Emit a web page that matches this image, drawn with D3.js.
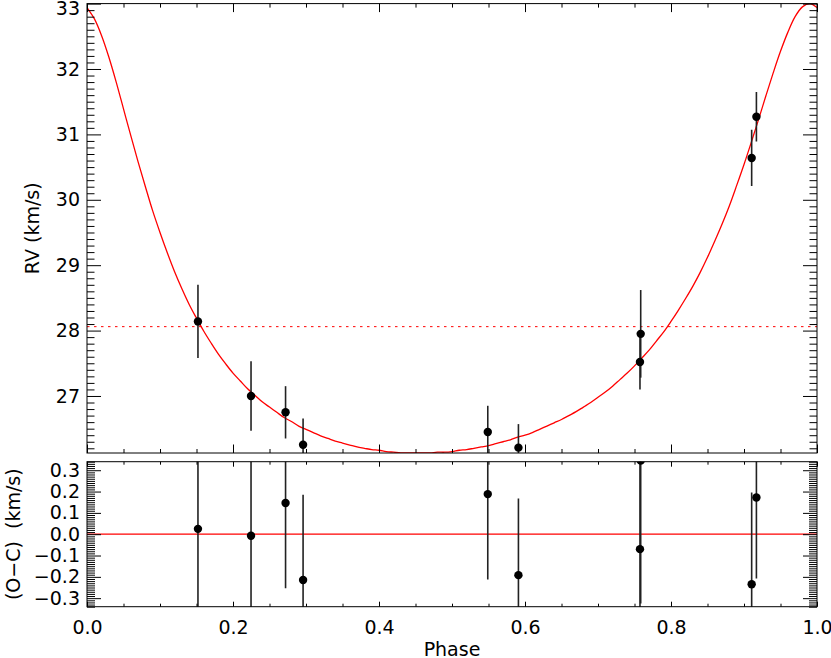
<!DOCTYPE html>
<html><head><meta charset="utf-8">
<script src="https://cdn.jsdelivr.net/npm/d3@7"></script>
<style>body{margin:0;background:#fff}text{font-family:"DejaVu Sans",sans-serif;fill:#000}</style>
</head>
<body>
<svg id="chart" width="831" height="658"></svg>
<script>
// ---- data ----
const phase    = [0.152, 0.2247, 0.272, 0.296, 0.549, 0.591, 0.7585, 0.7575, 0.9105, 0.917];
const rvObs    = [28.14, 27.00, 26.75, 26.255, 26.45, 26.21, 27.95, 27.52, 30.64, 31.27];
const rvErr    = [0.56, 0.53, 0.40, 0.40, 0.40, 0.36, 0.67, 0.42, 0.43, 0.38];
const residual = [0.025, -0.007, 0.146, -0.215, 0.188, -0.192, 0.345, -0.070, -0.235, 0.172];
const systemicVelocity = 28.06;
// model curve, sampled every 0.01 in phase
const modelPhase = d3.range(0, 101).map(i => i / 100);
const modelRV = [32.94,32.77,32.51,32.18,31.80,31.39,30.98,30.58,30.20,29.83,
 29.50,29.19,28.90,28.64,28.40,28.19,27.99,27.81,27.64,27.49,
 27.35,27.23,27.11,27.01,26.91,26.83,26.75,26.67,26.61,26.54,
 26.49,26.44,26.39,26.35,26.31,26.28,26.25,26.22,26.20,26.18,
 26.17,26.15,26.14,26.13,26.13,26.13,26.13,26.13,26.14,26.14,
 26.15,26.17,26.18,26.20,26.22,26.24,26.27,26.30,26.33,26.37,
 26.40,26.44,26.49,26.54,26.59,26.64,26.70,26.76,26.83,26.90,
 26.98,27.06,27.15,27.25,27.35,27.46,27.58,27.70,27.84,27.98,
 28.14,28.31,28.49,28.68,28.89,29.12,29.37,29.63,29.91,30.22,
 30.54,30.88,31.23,31.59,31.94,32.27,32.56,32.80,32.95,33.00,32.94];
const xTicks = [0.0, 0.2, 0.4, 0.6, 0.8, 1.0];
const rvTicks = [27, 28, 29, 30, 31, 32, 33];
const resTicks = [-0.3, -0.2, -0.1, 0.0, 0.1, 0.2, 0.3];

// ---- layout ----
const svg = d3.select("#chart");
const L = 87, R = 817;
const top1 = 3.6, bot1 = 453, top2 = 461.7, bot2 = 606.7;
const x = d3.scaleLinear([0, 1], [L, R]);
const yTop = d3.scaleLinear([26.128, 33.0], [bot1, top1]);
const yBot = d3.scaleLinear([-0.34, 0.34], [bot2, top2]);
const xMinor = d3.range(0, 21).map(i => i * 0.05).filter(v => Math.abs(v / 0.2 - Math.round(v / 0.2)) > 1e-6);
const rvMinor = d3.range(262, 331).map(i => i / 10).filter(v => Math.abs(v - Math.round(v)) > 1e-6);
const resMinor = d3.range(-34, 35).map(i => i / 100).filter(v => Math.abs(v * 10 - Math.round(v * 10)) > 1e-6);

const defs = svg.append("defs");
defs.append("clipPath").attr("id", "c1").append("rect").attr("x", L).attr("y", top1).attr("width", R - L).attr("height", bot1 - top1);
defs.append("clipPath").attr("id", "c2").append("rect").attr("x", L).attr("y", top2).attr("width", R - L).attr("height", bot2 - top2);

function styleAxis(g) {
  g.select(".domain").remove();
  g.selectAll("line").attr("stroke", "#000").attr("stroke-width", 1);
  g.selectAll("text").attr("font-size", 19).attr("font-family", "DejaVu Sans").attr("fill", "#000");
}
function addAxis(axis, tx, ty) {
  return svg.append("g").attr("transform", `translate(${tx},${ty})`).call(axis).call(styleAxis);
}

// ---- top panel ----
const p1 = svg.append("g").attr("clip-path", "url(#c1)");
p1.append("line").attr("x1", L).attr("x2", R).attr("y1", yTop(systemicVelocity)).attr("y2", yTop(systemicVelocity))
  .attr("stroke", "#ff0000").attr("stroke-width", 1).attr("stroke-dasharray", "2.5,4.5");
p1.append("path").datum(modelPhase.map((p, i) => [p, modelRV[i]]))
  .attr("fill", "none").attr("stroke", "#ff0000").attr("stroke-width", 1.3)
  .attr("d", d3.line().x(d => x(d[0])).y(d => yTop(d[1])).curve(d3.curveCatmullRom));
p1.selectAll(".eb").data(phase).join("line")
  .attr("x1", d => x(d)).attr("x2", d => x(d))
  .attr("y1", (d, i) => yTop(rvObs[i] - rvErr[i])).attr("y2", (d, i) => yTop(rvObs[i] + rvErr[i]))
  .attr("stroke", "#222").attr("stroke-width", 1.6);
p1.selectAll(".pt").data(phase).join("circle")
  .attr("cx", d => x(d)).attr("cy", (d, i) => yTop(rvObs[i])).attr("r", 4.2).attr("fill", "#000");

// ---- bottom panel ----
const p2 = svg.append("g").attr("clip-path", "url(#c2)");
p2.append("line").attr("x1", L).attr("x2", R).attr("y1", yBot(0)).attr("y2", yBot(0))
  .attr("stroke", "#ff0000").attr("stroke-width", 1.3);
p2.selectAll(".eb").data(phase).join("line")
  .attr("x1", d => x(d)).attr("x2", d => x(d))
  .attr("y1", (d, i) => yBot(residual[i] - rvErr[i])).attr("y2", (d, i) => yBot(residual[i] + rvErr[i]))
  .attr("stroke", "#222").attr("stroke-width", 1.6);
p2.selectAll(".pt").data(phase).join("circle")
  .attr("cx", d => x(d)).attr("cy", (d, i) => yBot(residual[i])).attr("r", 4.2).attr("fill", "#000");

// ---- axes: top panel ----
const yl1 = addAxis(d3.axisLeft(yTop).tickValues(rvTicks).tickFormat(d3.format("d")).tickSizeInner(-14).tickSizeOuter(0).tickPadding(7), L, 0);
yl1.selectAll(".tick").filter(d => d === 33).select("text").attr("dy", "0.55em");
addAxis(d3.axisLeft(yTop).tickValues(rvMinor).tickFormat("").tickSizeInner(-7.5).tickSizeOuter(0), L, 0);
addAxis(d3.axisRight(yTop).tickValues(rvTicks).tickFormat("").tickSizeInner(-14).tickSizeOuter(0), R, 0);
addAxis(d3.axisRight(yTop).tickValues(rvMinor).tickFormat("").tickSizeInner(-7.5).tickSizeOuter(0), R, 0);
addAxis(d3.axisBottom(x).tickValues(xTicks).tickFormat("").tickSizeInner(-8.5).tickSizeOuter(0), 0, bot1);
addAxis(d3.axisBottom(x).tickValues(xMinor).tickFormat("").tickSizeInner(-4).tickSizeOuter(0), 0, bot1);
addAxis(d3.axisTop(x).tickValues(xTicks).tickFormat("").tickSizeInner(-8.5).tickSizeOuter(0), 0, top1);
addAxis(d3.axisTop(x).tickValues(xMinor).tickFormat("").tickSizeInner(-4).tickSizeOuter(0), 0, top1);

// ---- axes: bottom panel ----
addAxis(d3.axisLeft(yBot).tickValues(resTicks).tickFormat(d3.format(".1f")).tickSizeInner(-14).tickSizeOuter(0).tickPadding(7), L, 0);
addAxis(d3.axisLeft(yBot).tickValues(resMinor).tickFormat("").tickSizeInner(-8).tickSizeOuter(0), L, 0);
addAxis(d3.axisRight(yBot).tickValues(resTicks).tickFormat("").tickSizeInner(-14).tickSizeOuter(0), R, 0);
addAxis(d3.axisRight(yBot).tickValues(resMinor).tickFormat("").tickSizeInner(-8).tickSizeOuter(0), R, 0);
addAxis(d3.axisBottom(x).tickValues(xTicks).tickFormat(d3.format(".1f")).tickSizeInner(-5).tickSizeOuter(0).tickPadding(14), 0, bot2);
addAxis(d3.axisBottom(x).tickValues(xMinor).tickFormat("").tickSizeInner(-3).tickSizeOuter(0), 0, bot2);
addAxis(d3.axisTop(x).tickValues(xTicks).tickFormat("").tickSizeInner(-5).tickSizeOuter(0), 0, top2);
addAxis(d3.axisTop(x).tickValues(xMinor).tickFormat("").tickSizeInner(-3).tickSizeOuter(0), 0, top2);

// ---- frames ----
svg.append("rect").attr("x", L).attr("y", top1).attr("width", R - L).attr("height", bot1 - top1)
  .attr("fill", "none").attr("stroke", "#000").attr("stroke-width", 1);
svg.append("rect").attr("x", L).attr("y", top2).attr("width", R - L).attr("height", bot2 - top2)
  .attr("fill", "none").attr("stroke", "#000").attr("stroke-width", 1);

// ---- titles ----
svg.append("text").attr("transform", `translate(38.5,${(top1 + bot1) / 2}) rotate(-90)`)
  .attr("text-anchor", "middle").attr("font-size", 19).text("RV (km/s)");
svg.append("text").attr("transform", `translate(19.5,${(top2 + bot2) / 2}) rotate(-90)`)
  .attr("text-anchor", "middle").attr("font-size", 19).style("white-space", "pre").text("(O\u2212C)  (km/s)");
svg.append("text").attr("x", (L + R) / 2).attr("y", 656).attr("text-anchor", "middle").attr("font-size", 19).text("Phase");
</script>
</body></html>
